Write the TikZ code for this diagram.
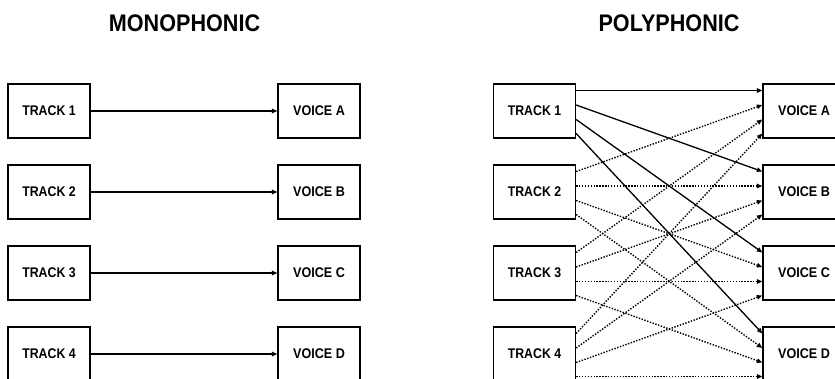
\documentclass[tikz,border=0pt]{standalone}
\usepackage{fontspec}
\setmainfont{Liberation Sans}
\usetikzlibrary{arrows.meta}
\begin{document}
\begin{tikzpicture}[x=1pt,y=-1pt,
  box/.style={draw,line width=1.3pt,minimum width=82pt,minimum height=54pt,inner sep=0pt,
    font=\fontsize{14}{14}\selectfont\bfseries},
  ttl/.style={anchor=base,inner sep=0pt,font=\fontsize{24}{24}\selectfont\bfseries},
  tip/.style={-{Triangle[length=5.5pt,width=4.5pt]}},
  solidarrow/.style={tip,line width=1.3pt},
  dotarrow/.style={tip,line width=1.4pt,dash pattern=on 1.4pt off 1.5pt}]
\useasboundingbox (0,0) rectangle (835,378);
\clip (0,0) rectangle (835,378);
% titles
\node[ttl] (tm) at (184.5,31) {\scalebox{0.9}[1]{MONOPHONIC}};
\node[ttl] (tp) at (669,31) {\scalebox{0.9}[1]{POLYPHONIC}};
% monophonic
\foreach \i/\y/\v in {1/111/A,2/192/B,3/273/C,4/354/D}{
  \node[box] (t\i) at (49,\y) {\scalebox{0.88}[1]{TRACK \i}};
  \node[box] (v\i) at (319,\y) {\scalebox{0.9}[1]{VOICE \v}};
  \draw[solidarrow] (t\i) -- (v\i);
}
% polyphonic
\foreach \i/\y/\v in {1/111/A,2/192/B,3/273/C,4/354/D}{
  \node[box] (pt\i) at (534.5,\y) {\scalebox{0.88}[1]{TRACK \i}};
  \node[box] (pv\i) at (804,\y) {\scalebox{0.9}[1]{VOICE \v}};
}
\foreach \i/\oi in {2/6,3/-8.5,4/-22.5}{
  \foreach \j/\oj in {1/20.5,2/6,3/-8.5,4/-22.5}{
    \draw[dotarrow] ([yshift=\oj pt]pt\i.east) -- ([yshift=\oi pt]pv\j.west);
  }
}
\foreach \j/\oj in {1/20.5,2/6,3/-8.5,4/-22.5}{
  \draw[solidarrow] ([yshift=\oj pt]pt1.east) -- ([yshift=20.5pt]pv\j.west);
}
\end{tikzpicture}
\end{document}
